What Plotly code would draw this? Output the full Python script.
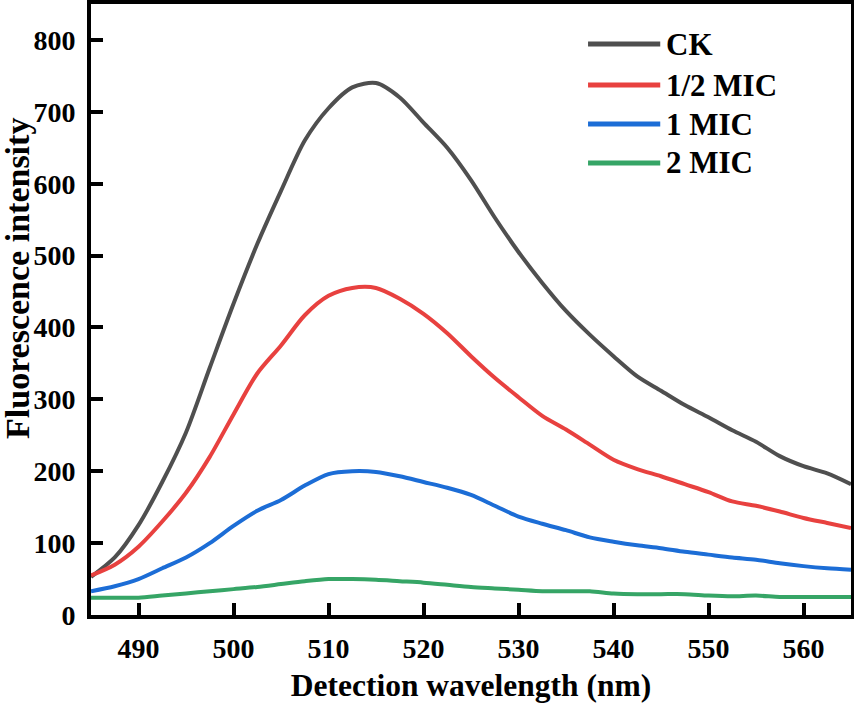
import plotly.graph_objects as go

wavelength = [485, 487.5, 490, 492.5, 495, 497.5, 500, 502.5, 505, 507.5, 510, 512.5, 515,
              517.5, 520, 522.5, 525, 527.5, 530, 532.5, 535, 537.5, 540, 542.5, 545,
              547.5, 550, 552.5, 555, 557.5, 560, 562.5, 565]

ck = [53, 80, 125, 185, 254, 344, 433, 516, 590, 660, 705, 734, 740,
      720, 685, 650, 605, 553, 505, 462, 423, 390, 360, 332, 312,
      292, 275, 257, 241, 221, 207, 197, 182]

half_mic = [55, 70, 95, 130, 170, 220, 279, 336, 375, 417, 444, 455, 455,
            440, 419, 392, 360, 330, 303, 277, 258, 237, 216, 203, 193,
            182, 171, 158, 152, 144, 135, 128, 121]

one_mic = [33, 40, 50, 65, 80, 100, 124, 145, 160, 180, 196, 200, 199,
           193, 185, 177, 167, 152, 137, 127, 118, 108, 102, 97, 93,
           88, 84, 80, 77, 72, 68, 65, 63]

two_mic = [24, 24, 24, 27, 30, 33, 36, 39, 43, 47, 50, 50, 49,
           47, 45, 42, 39, 37, 35, 33, 33, 33, 30, 29, 29,
           29, 27, 26, 27, 25, 25, 25, 25]

series_names = ["CK", "1/2 MIC", "1 MIC", "2 MIC"]
series_values = [ck, half_mic, one_mic, two_mic]
colors = ["#4f4f4f", "#e8413f", "#1c6dd6", "#36a566"]

x_ticks = [490, 500, 510, 520, 530, 540, 550, 560]
y_ticks = [0, 100, 200, 300, 400, 500, 600, 700, 800]

FONT = "Liberation Serif"

fig = go.Figure()
for name, vals, col in zip(series_names, series_values, colors):
    fig.add_trace(go.Scatter(x=wavelength, y=vals, mode="lines", name=name,
                             line=dict(color=col, width=4, shape="spline", smoothing=0.8),
                             showlegend=False))

# custom legend (long line samples like the original)
legend_y = [0.9345, 0.8674, 0.8036, 0.7398]
for name, col, ly in zip(series_names, colors, legend_y):
    fig.add_shape(type="line", xref="paper", yref="paper", x0=0.654, x1=0.749, y0=ly, y1=ly,
                  line=dict(color=col, width=5))
    fig.add_annotation(xref="paper", yref="paper", x=0.754, y=ly, text=name, showarrow=False,
                       xanchor="left", yanchor="middle",
                       font=dict(family=FONT, size=31, color="black", weight="bold"))

# y-axis title (placed slightly above centre, as in the original)
fig.add_annotation(xref="paper", yref="paper", x=-0.096, y=0.55, text="Fluorescence intensity",
                   textangle=-90, showarrow=False, xanchor="center", yanchor="middle",
                   font=dict(family=FONT, size=34, color="black", weight="bold"))

axis_common = dict(showline=True, mirror=True, linecolor="black", linewidth=4,
                   ticks="inside", ticklen=12, tickwidth=3.5, tickcolor="black",
                   showgrid=False, zeroline=False, automargin=False,
                   tickfont=dict(family=FONT, size=28, color="black", weight="bold"))

fig.update_xaxes(range=[485, 565], tickvals=x_ticks,
                 title=dict(text="Detection wavelength (nm)", standoff=12,
                            font=dict(family=FONT, size=31.5, color="black", weight="bold")),
                 ticklabelstandoff=5, **axis_common)
fig.update_yaxes(range=[0, 850], tickvals=y_ticks, ticklabelstandoff=6, **axis_common)

fig.update_layout(width=854, height=708, margin=dict(l=91, r=3, t=4, b=93),
                  plot_bgcolor="white", paper_bgcolor="white")

fig.write_html("out.html", config={"displayModeBar": False},
               post_script="document.body.style.margin='0';")
